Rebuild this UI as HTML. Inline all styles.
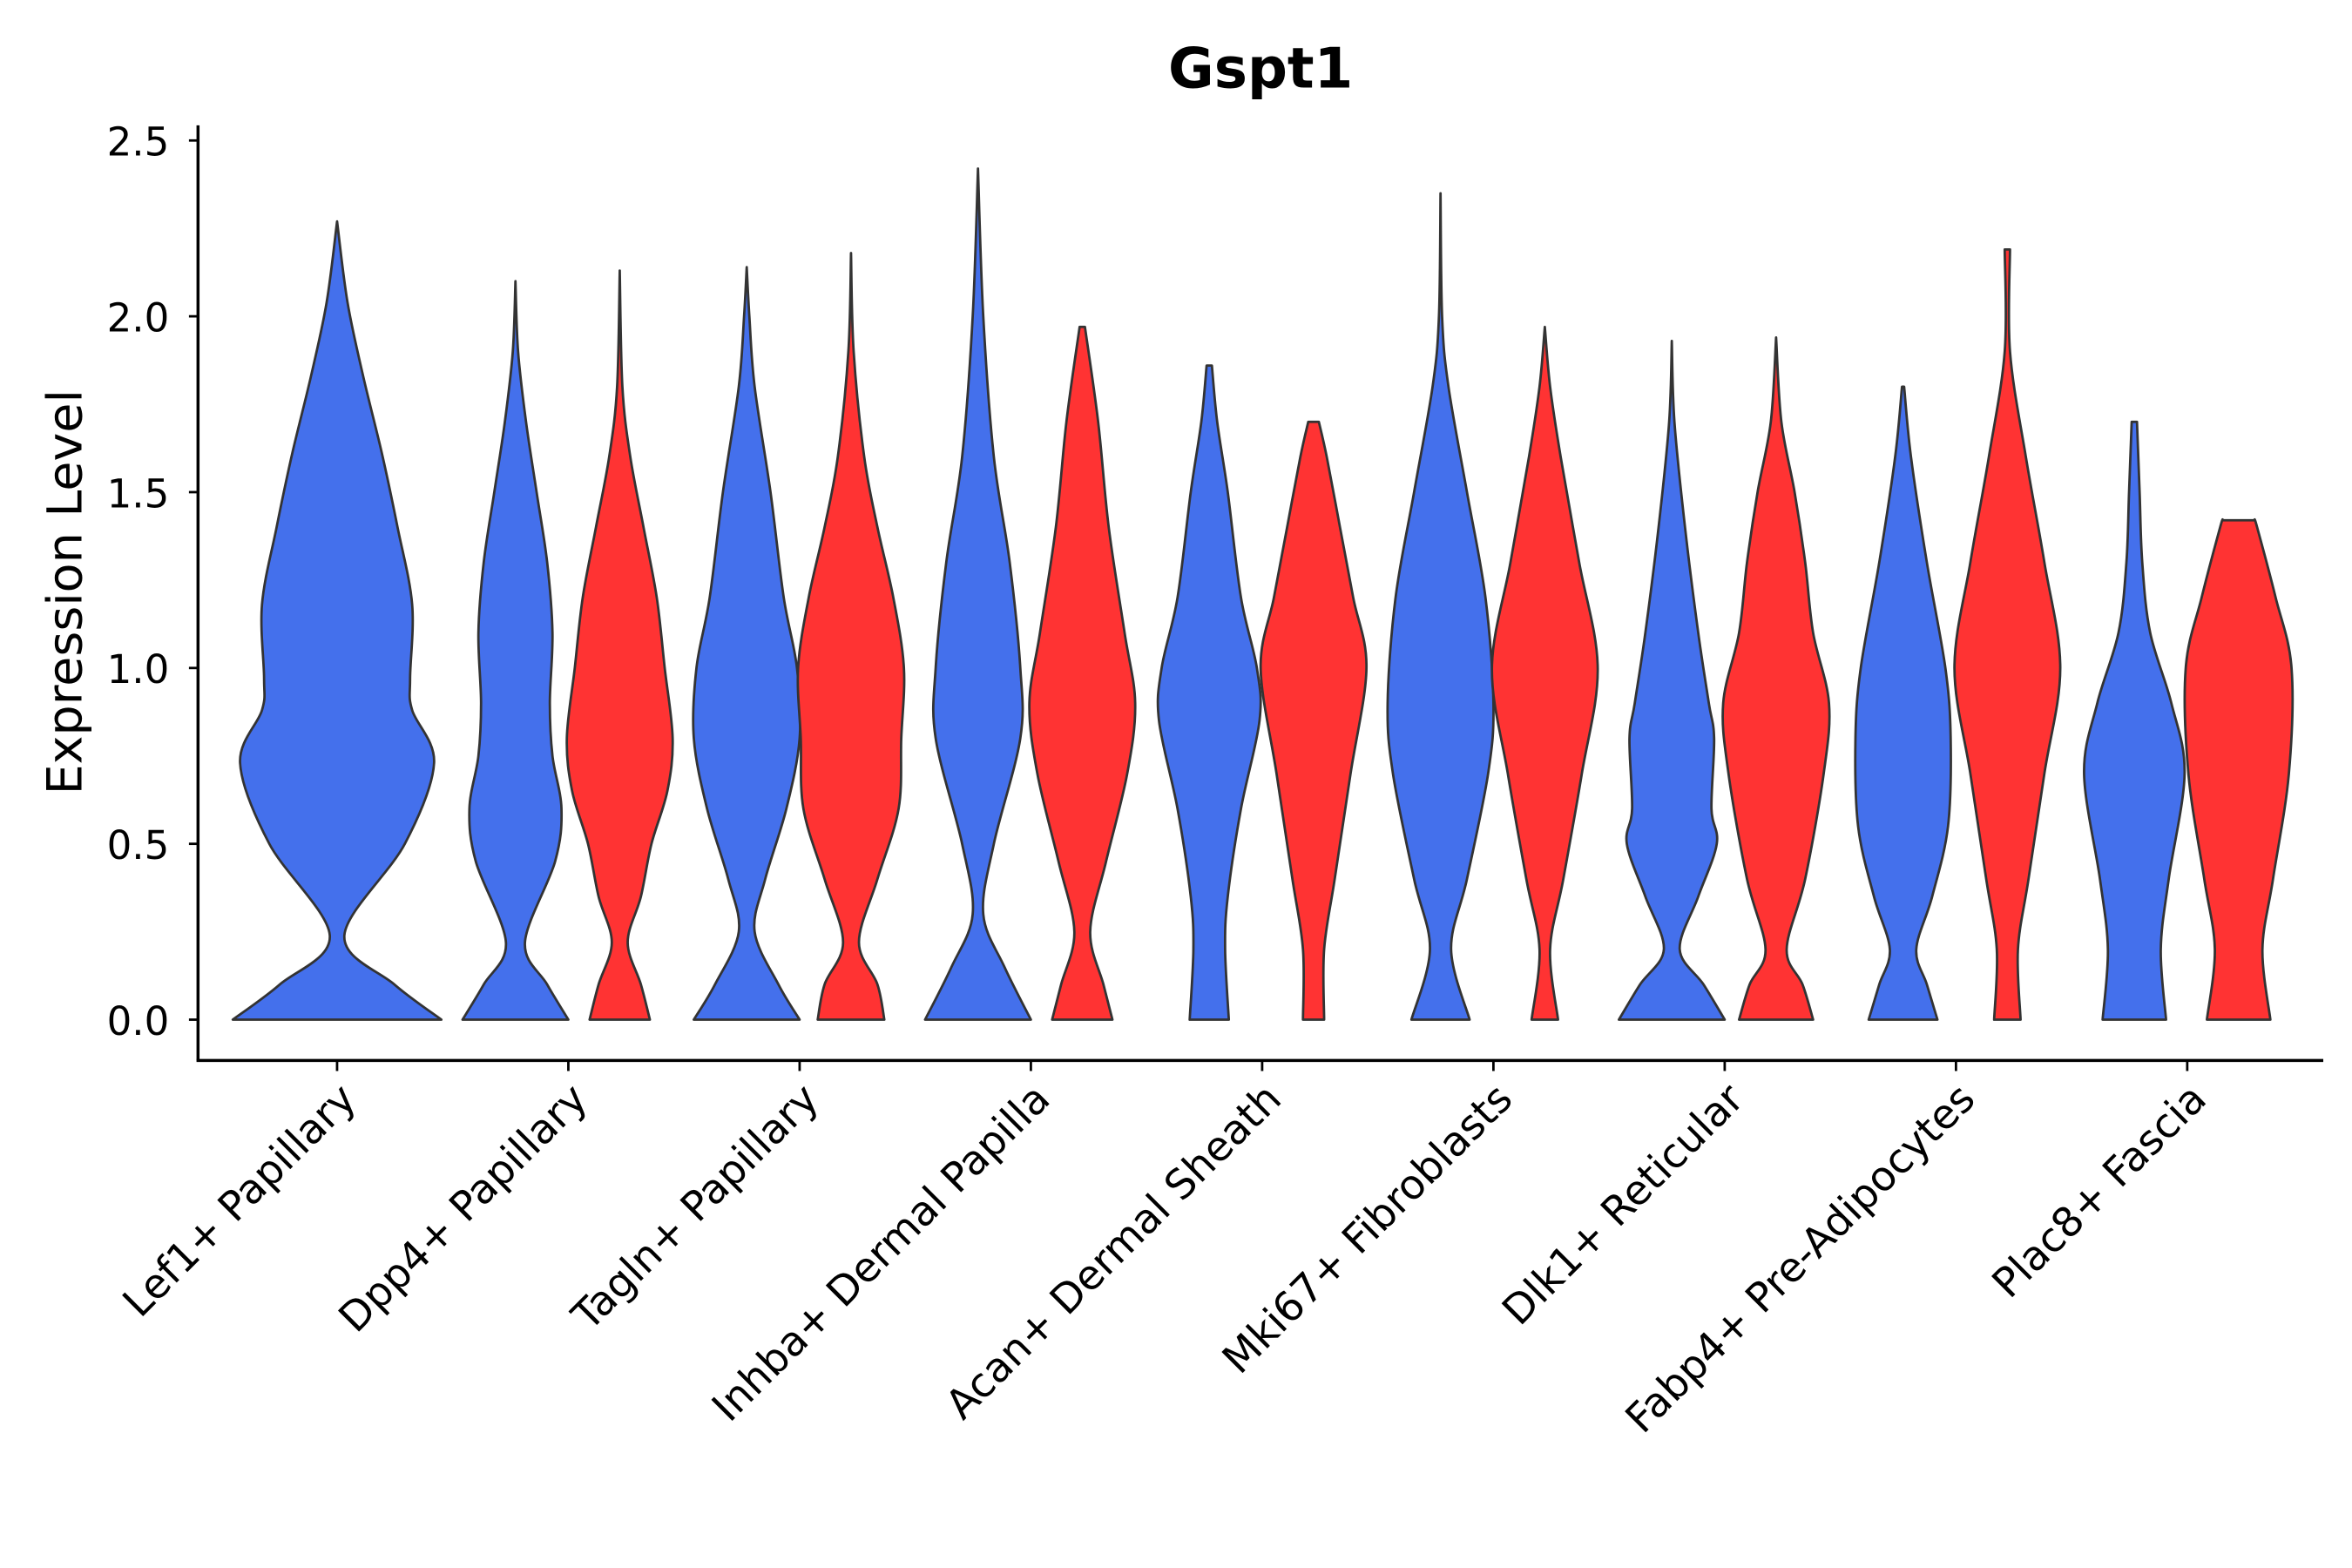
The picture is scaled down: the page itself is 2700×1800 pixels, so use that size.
<!DOCTYPE html>
<html><head><meta charset="utf-8"><style>
html,body{margin:0;padding:0;background:#fff}
svg{display:block}
text{font-family:"DejaVu Sans","Liberation Sans",sans-serif;fill:#000}
</style></head><body>
<svg id="chart" width="2700" height="1800" viewBox="0 0 1556 1038" preserveAspectRatio="none" xmlns="http://www.w3.org/2000/svg">
<rect width="1556" height="1038" fill="#fff"/>
<text x="834" y="58" text-anchor="middle" font-size="37" font-weight="bold">Gspt1</text>
<text transform="translate(54,392) rotate(-90)" text-anchor="middle" font-size="32">Expression Level</text>
<g id="plot"></g>
</svg>
<script>
const categories = ["Lef1+ Papillary","Dpp4+ Papillary","Tagln+ Papillary","Inhba+ Dermal Papilla","Acan+ Dermal Sheath","Mki67+ Fibroblasts","Dlk1+ Reticular","Fabp4+ Pre-Adipocytes","Plac8+ Fascia"];
const yTicks = [0,0.5,1,1.5,2,2.5];
const yTickLabels = ["0.0","0.5","1.0","1.5","2.0","2.5"];
// each profile: [value, relative half-width]
const blueProfiles = [
 [[0,1],[0.1,0.55],[0.24,0.07],[0.5,0.65],[0.73,0.93],[0.88,0.72],[0.97,0.7],[1.18,0.72],[1.4,0.58],[1.61,0.43],[1.83,0.25],[2.04,0.1],[2.27,0]],
 [[0,1],[0.1,0.6],[0.22,0.18],[0.45,0.75],[0.6,0.87],[0.75,0.7],[0.9,0.65],[1.1,0.7],[1.3,0.6],[1.5,0.4],[1.7,0.2],[1.9,0.05],[2.1,0]],
 [[0,1],[0.1,0.6],[0.25,0.15],[0.4,0.35],[0.6,0.75],[0.8,1],[1.0,0.95],[1.2,0.7],[1.5,0.45],[1.8,0.15],[2.0,0.05],[2.14,0]],
 [[0,1],[0.15,0.5],[0.3,0.1],[0.5,0.3],[0.8,0.8],[1.0,0.8],[1.3,0.6],[1.6,0.3],[2.0,0.1],[2.42,0]],
 [[0,0.37],[0.2,0.3],[0.35,0.35],[0.6,0.6],[0.85,0.95],[1.0,0.9],[1.2,0.6],[1.5,0.35],[1.7,0.15],[1.86,0.05]],
 [[0,0.55],[0.2,0.2],[0.4,0.5],[0.7,0.9],[0.9,1],[1.2,0.85],[1.5,0.5],[1.8,0.15],[2.0,0.03],[2.35,0]],
 [[0,1],[0.1,0.6],[0.2,0.15],[0.35,0.5],[0.5,0.85],[0.6,0.75],[0.8,0.8],[0.9,0.7],[1.1,0.5],[1.4,0.25],[1.7,0.05],[1.93,0]],
 [[0,0.65],[0.1,0.45],[0.2,0.25],[0.35,0.55],[0.55,0.85],[0.8,0.9],[1.0,0.8],[1.3,0.45],[1.6,0.15],[1.8,0.02]],
 [[0,0.6],[0.2,0.5],[0.4,0.65],[0.7,0.95],[0.9,0.7],[1.1,0.3],[1.3,0.15],[1.5,0.1],[1.7,0.05]]
];
const redProfiles = [
 null,
 [[0,0.57],[0.1,0.4],[0.22,0.15],[0.35,0.4],[0.5,0.6],[0.65,0.9],[0.8,1],[1.0,0.85],[1.2,0.7],[1.4,0.45],[1.6,0.2],[1.8,0.05],[2.13,0]],
 [[0,0.63],[0.1,0.5],[0.22,0.15],[0.4,0.5],[0.6,0.9],[0.8,0.95],[1.0,1],[1.2,0.8],[1.4,0.5],[1.6,0.25],[1.9,0.05],[2.18,0]],
 [[0,0.57],[0.1,0.4],[0.25,0.15],[0.45,0.45],[0.7,0.85],[0.9,1],[1.1,0.8],[1.4,0.5],[1.7,0.3],[1.97,0.05]],
 [[0,0.2],[0.2,0.2],[0.4,0.4],[0.7,0.7],[1.0,1],[1.2,0.75],[1.4,0.5],[1.6,0.25],[1.7,0.1]],
 [[0,0.25],[0.2,0.1],[0.4,0.35],[0.7,0.7],[1.0,1],[1.3,0.65],[1.6,0.3],[1.8,0.1],[1.97,0]],
 [[0,0.7],[0.1,0.5],[0.2,0.2],[0.4,0.55],[0.7,0.9],[0.9,1],[1.1,0.7],[1.3,0.55],[1.5,0.35],[1.7,0.1],[1.94,0]],
 [[0,0.25],[0.2,0.2],[0.4,0.4],[0.7,0.7],[1.0,1],[1.3,0.7],[1.6,0.35],[1.9,0.05],[2.19,0.05]],
 [[0,0.6],[0.2,0.45],[0.4,0.65],[0.7,0.95],[1.0,1],[1.2,0.7],[1.4,0.35],[1.42,0.3]]
];
const NS="http://www.w3.org/2000/svg";
const plot=document.getElementById('plot');
const X0=131, Y0=702, XR=1537, YT=83;
function yScale(v){return 675-v*232.8;}
function xScale(i){return 223+i*153;}
function mk(tag,attrs){const e=document.createElementNS(NS,tag);for(const k in attrs)e.setAttribute(k,attrs[k]);plot.appendChild(e);return e;}
function smooth(pts){
  let d=`M${pts[0][0]},${pts[0][1]}`;
  for(let i=0;i<pts.length-1;i++){
    const p0=pts[Math.max(i-1,0)],p1=pts[i],p2=pts[i+1],p3=pts[Math.min(i+2,pts.length-1)];
    const c1=[p1[0]+(p2[0]-p0[0])/6,p1[1]+(p2[1]-p0[1])/6];
    const c2=[p2[0]-(p3[0]-p1[0])/6,p2[1]-(p3[1]-p1[1])/6];
    d+=`C${c1[0]},${c1[1]} ${c2[0]},${c2[1]} ${p2[0]},${p2[1]}`;
  }
  return d;
}
function violin(cx,half,prof,color,name){
  const right=prof.map(p=>[cx+p[1]*half,yScale(p[0])]);
  const left=prof.slice().reverse().map(p=>[cx-p[1]*half,yScale(p[0])]);
  let d=smooth(right);
  d+=`L${left[0][0]},${left[0][1]}`+smooth(left).replace(/^M[^C]*/,'')+'Z';
  const e=mk('path',{d:d,fill:color,stroke:'#333','stroke-width':1.6,'stroke-linejoin':'round'});
  
  
}
categories.forEach((c,i)=>{
  const cx=xScale(i);
  if(!redProfiles[i]) violin(cx,69,blueProfiles[i],'#4470EC','violin-'+(i+1)+'-blue');
  else{
    violin(cx-35,35,blueProfiles[i],'#4470EC','violin-'+(i+1)+'-blue');
    violin(cx+34,35,redProfiles[i],'#FF3333','violin-'+(i+1)+'-red');
  }
});
let ax=mk('line',{x1:X0,y1:YT,x2:X0,y2:Y0,stroke:'#000','stroke-width':2});


ax=mk('line',{x1:X0-1,y1:Y0,x2:XR,y2:Y0,stroke:'#000','stroke-width':2});


yTicks.forEach((v,i)=>{
  const y=yScale(v);
  mk('line',{x1:X0-6,y1:y,x2:X0,y2:y,stroke:'#000','stroke-width':1.6});
  const t=mk('text',{x:X0-19,y:y+10,'text-anchor':'end','font-size':26});
  t.textContent=yTickLabels[i];
  
  
});
categories.forEach((c,i)=>{
  const x=xScale(i);
  mk('line',{x1:x,y1:Y0,x2:x,y2:Y0+7,stroke:'#000','stroke-width':1.6});
  const t=mk('text',{transform:`translate(${x+14},${Y0+27}) rotate(-45)`,'text-anchor':'end','font-size':27});
  t.textContent=c;
  
  
});
</script>
</body></html>
